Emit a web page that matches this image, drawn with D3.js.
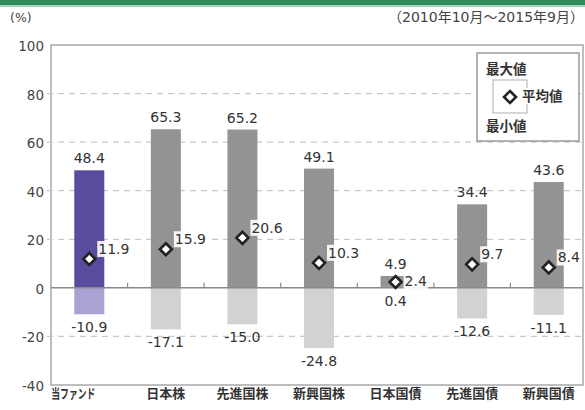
<!DOCTYPE html>
<html>
<head>
<meta charset="utf-8">
<script src="https://cdn.jsdelivr.net/npm/d3@7"></script>
<style>
  body { margin: 0; background: #fff; }
  text { font-family: "DejaVu Sans", "Noto Sans CJK JP", sans-serif; }
</style>
</head>
<body>
<div id="chart"></div>
<script>
// chart values
var categories = ["当ファンド", "日本株", "先進国株", "新興国株", "日本国債", "先進国債", "新興国債"];
var maxValues = [48.4, 65.3, 65.2, 49.1, 4.9, 34.4, 43.6];
var avgValues = [11.9, 15.9, 20.6, 10.3, 2.4, 9.7, 8.4];
var minValues = [-10.9, -17.1, -15.0, -24.8, 0.4, -12.6, -11.1];
var yTicks = [-40, -20, 0, 20, 40, 60, 80, 100];
var legendLabels = ["最大値", "平均値", "最小値"];

var W = 585, H = 410;
var plot = {left: 51, right: 583, top: 45, bottom: 385};

var svg = d3.select("#chart")
  .append("svg")
    .attr("width", W)
    .attr("height", H);

// green rule at the top
svg.append("rect").attr("x", 0).attr("y", 0).attr("width", W).attr("height", 5).attr("fill", "#2f8c5c");
svg.append("rect").attr("x", 0).attr("y", 5).attr("width", W).attr("height", 2).attr("fill", "#a6d6ba");

var y = d3.scaleLinear()
  .domain([-40, 100])
  .range([plot.bottom, plot.top]);

var x = d3.scaleBand()
  .domain(categories)
  .range([plot.left, 587])
  .paddingInner(0.608)
  .paddingOuter(0.304);

var step = x.step();

// frame
svg.append("rect")
  .attr("x", plot.left).attr("y", plot.top)
  .attr("width", plot.right - plot.left).attr("height", plot.bottom - plot.top)
  .attr("fill", "none").attr("stroke", "#a8a8a8").attr("stroke-width", 1.5);

// dashed grid
svg.append("g").selectAll("line")
  .data(yTicks.filter(function(d) { return d !== 0 && d !== 100 && d !== -40; }))
  .join("line")
    .attr("x1", plot.left - 4).attr("x2", plot.right)
    .attr("y1", function(d) { return y(d); }).attr("y2", function(d) { return y(d); })
    .attr("stroke", "#c8c8c8").attr("stroke-width", 1.2)
    .attr("stroke-dasharray", "6,5");

// y axis labels
svg.append("g").selectAll("text")
  .data(yTicks)
  .join("text")
    .attr("x", 44)
    .attr("y", function(d) { return y(d) + 2; })
    .attr("text-anchor", "end")
    .attr("dominant-baseline", "middle")
    .attr("font-size", 13.5)
    .attr("fill", "#444")
    .text(function(d) { return d; });

svg.append("text").attr("x", 10).attr("y", 22).attr("font-size", 12.5).attr("fill", "#444").text("(%)");
svg.append("text").attr("x", 584).attr("y", 22).attr("text-anchor", "end")
  .attr("font-size", 14).attr("fill", "#444").text("（2010年10月〜2015年9月）");

// bars: dark above zero, light below
var darkCol = function(i) { return i === 0 ? "#5a4b9e" : "#939393"; };
var lightCol = function(i) { return i === 0 ? "#aaa2d2" : "#d2d2d2"; };

categories.forEach(function(c, i) {
  var lo = minValues[i], hi = maxValues[i];
  var upBase = Math.max(0, lo);
  svg.append("rect")
    .attr("x", x(c)).attr("width", x.bandwidth())
    .attr("y", y(hi)).attr("height", y(upBase) - y(hi))
    .attr("fill", darkCol(i));
  if (lo < 0) {
    svg.append("rect")
      .attr("x", x(c)).attr("width", x.bandwidth())
      .attr("y", y(0)).attr("height", y(lo) - y(0))
      .attr("fill", lightCol(i));
  }
});

// zero line + small ticks between categories
svg.append("line")
  .attr("x1", plot.left).attr("x2", plot.right)
  .attr("y1", y(0)).attr("y2", y(0))
  .attr("stroke", "#8a8a8a").attr("stroke-width", 1.5);
svg.append("g").selectAll("line")
  .data(d3.range(1, categories.length))
  .join("line")
    .attr("x1", function(k) { return plot.left + k * step; })
    .attr("x2", function(k) { return plot.left + k * step; })
    .attr("y1", y(0)).attr("y2", y(0) - 5)
    .attr("stroke", "#8a8a8a").attr("stroke-width", 1.2);

var fmt = function(v) { return v.toFixed(1); };

// max / min labels
svg.append("g").selectAll("text")
  .data(categories)
  .join("text")
    .attr("x", function(c) { return x(c) + x.bandwidth() / 2; })
    .attr("y", function(c, i) { return y(maxValues[i]) - 7; })
    .attr("text-anchor", "middle")
    .attr("font-size", 14)
    .attr("fill", "#333")
    .text(function(c, i) { return fmt(maxValues[i]); });

svg.append("g").selectAll("text")
  .data(categories)
  .join("text")
    .attr("x", function(c) { return x(c) + x.bandwidth() / 2; })
    .attr("y", function(c, i) { return y(Math.min(0, minValues[i])) + 18; })
    .attr("text-anchor", "middle")
    .attr("font-size", 14)
    .attr("fill", "#333")
    .text(function(c, i) { return fmt(minValues[i]); });

// average markers with boxed labels
var diamond = function(cx, cy, r) {
  return "M" + cx + "," + (cy - r) + "L" + (cx + r) + "," + cy + "L" + cx + "," + (cy + r) + "L" + (cx - r) + "," + cy + "Z";
};

categories.forEach(function(c, i) {
  var cx = x(c) + x.bandwidth() / 2, cy = y(avgValues[i]);
  // label sits level with the marker when the max label is too close above
  var lift = (cy - y(maxValues[i]) < 20) ? 0 : 9;
  var g = svg.append("g");
  var t = g.append("text")
    .attr("x", cx + 9).attr("y", cy - lift)
    .attr("dominant-baseline", "middle")
    .attr("font-size", 14)
    .attr("fill", "#333")
    .text(fmt(avgValues[i]));
  var bb = t.node().getBBox();
  g.insert("rect", "text")
    .attr("x", bb.x - 1).attr("y", bb.y)
    .attr("width", bb.width + 2).attr("height", bb.height)
    .attr("fill", "#fff").attr("opacity", 0.9);
  svg.append("path")
    .attr("d", diamond(cx, cy, 6))
    .attr("fill", "#fff").attr("stroke", "#222").attr("stroke-width", 2.6);
});

// category labels
svg.append("g").selectAll("text")
  .data(categories)
  .join("text")
    .attr("x", function(c) { return x(c) + x.bandwidth() / 2; })
    .attr("dx", function(c, i) { return i === 0 ? -16 : 0; })
    .attr("y", 398)
    .attr("text-anchor", "middle")
    .attr("font-size", 13)
    .attr("font-weight", "bold")
    .attr("fill", "#333")
    .each(function(c, i) {
      if (i === 0) d3.select(this).attr("textLength", 44).attr("lengthAdjust", "spacingAndGlyphs");
    })
    .text(function(c) { return c; });

// legend
var lg = svg.append("g");
lg.append("rect").attr("x", 477).attr("y", 53).attr("width", 102).attr("height", 88)
  .attr("fill", "#fff").attr("stroke", "#9a9a9a").attr("stroke-width", 1.5);
lg.append("rect").attr("x", 493).attr("y", 80).attr("width", 34).attr("height", 33)
  .attr("fill", "#fff").attr("stroke", "#bdbdbd").attr("stroke-width", 1.2);
lg.append("text").attr("x", 486).attr("y", 70).attr("dominant-baseline", "middle")
  .attr("font-size", 13.5).attr("font-weight", "bold").attr("fill", "#333").text(legendLabels[0]);
var lt = lg.append("text").attr("x", 522).attr("y", 97).attr("dominant-baseline", "middle")
  .attr("font-size", 13.5).attr("font-weight", "bold").attr("fill", "#333").text(legendLabels[1]);
var lb = lt.node().getBBox();
lg.insert("rect", "text").attr("x", lb.x - 1).attr("y", lb.y).attr("width", lb.width + 2).attr("height", lb.height)
  .attr("fill", "#fff");
lg.append("text").attr("x", 486).attr("y", 127).attr("dominant-baseline", "middle")
  .attr("font-size", 13.5).attr("font-weight", "bold").attr("fill", "#333").text(legendLabels[2]);
lg.append("path").attr("d", diamond(510, 97, 6))
  .attr("fill", "#fff").attr("stroke", "#222").attr("stroke-width", 2.6);
</script>
</body>
</html>
